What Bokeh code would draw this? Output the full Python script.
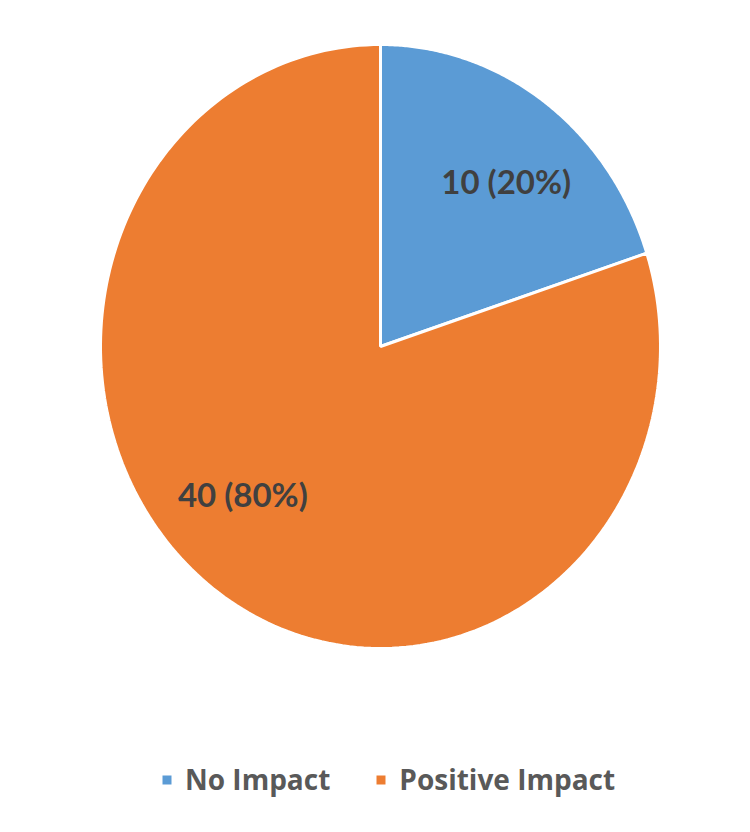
import numpy as np
from bokeh.plotting import figure
from bokeh.models import Range1d, Legend, LegendItem
from bokeh.core.properties import value
from bokeh.embed import file_html
from bokeh.resources import INLINE

categories = ["No Impact", "Positive Impact"]
counts = [10, 40]
colors = ["#5B9BD5", "#ED7D31"]

W, H = 750, 832
cx, cy = 380, H - 346
rx, ry = 280, 302

p = figure(width=W, height=H, output_backend="svg", toolbar_location=None,
           x_range=Range1d(0, W), y_range=Range1d(0, H), min_border=0)
p.axis.visible = False
p.grid.visible = False
p.outline_line_color = None
p.background_fill_color = "white"

total = sum(counts)
fracs = [c / total for c in counts]
starts = np.cumsum([0] + fracs[:-1])
items = []
for i, (cat, f, s) in enumerate(zip(categories, fracs, starts)):
    # angle measured clockwise from 12 o'clock
    t = np.linspace(s, s + f, 200) * 2 * np.pi
    xs = np.concatenate([[cx], cx + rx * np.sin(t)])
    ys = np.concatenate([[cy], cy + ry * np.cos(t)])
    r = p.patch(xs, ys, fill_color=colors[i], line_color="white", line_width=3)
    items.append(LegendItem(label=cat, renderers=[r]))

    mid = (s + f / 2) * 2 * np.pi
    lx = cx + rx * 0.8 * np.sin(mid)
    ly = cy + ry * 0.64 * np.cos(mid)
    pct = round(f * 100)
    p.text(x=[lx], y=[ly], text=[f"{counts[i]} ({pct}%)"], text_align="center",
           text_baseline="middle", text_font=value("Lato"), text_font_style="bold",
           text_font_size="33px", text_color="#404040", x_offset=-6, y_offset=-9)

legend = Legend(items=items, orientation="horizontal", location=(159, 34),
                label_text_font="Open Sans", label_text_font_style="bold",
                label_text_font_size="28px", label_text_color="#595959",
                glyph_width=15, glyph_height=15, spacing=43, padding=0, margin=0,
                border_line_color=None, background_fill_alpha=0, label_standoff=11)
p.add_layout(legend, "center")

open("out.html", "w").write(file_html(p, INLINE))
